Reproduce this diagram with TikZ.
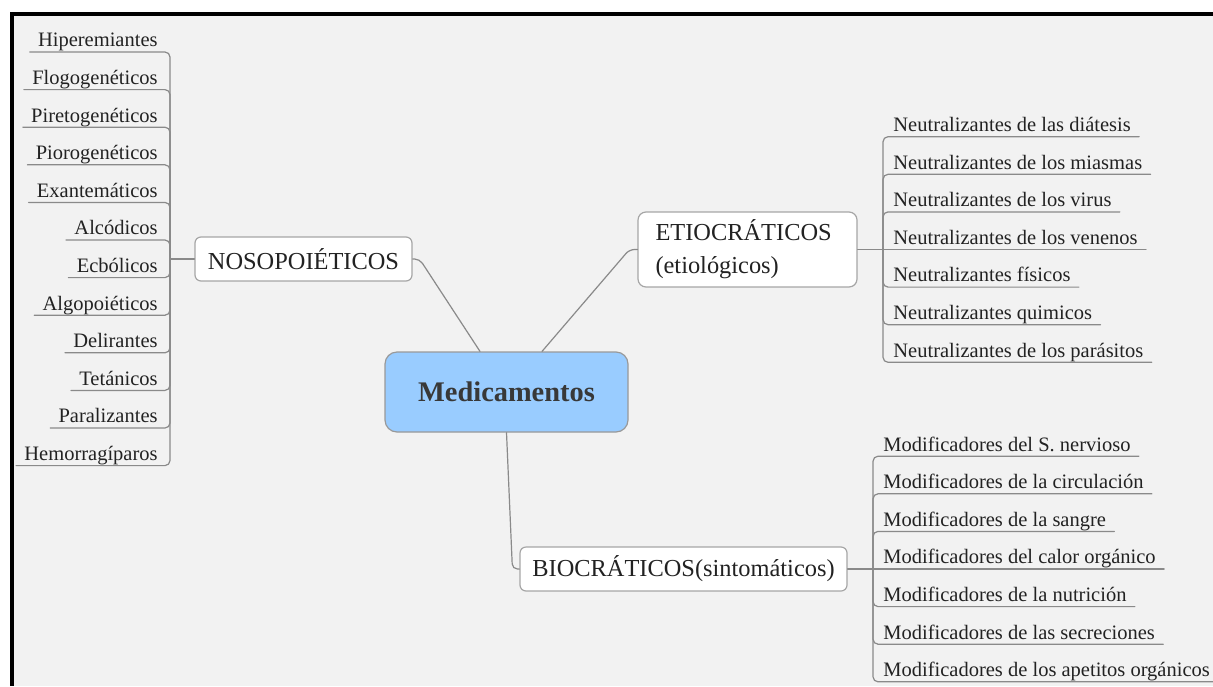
\documentclass[tikz,border=0pt]{standalone}
\usepackage{fontspec}
\setmainfont{Liberation Serif}
\usetikzlibrary{calc}
\definecolor{fondo}{HTML}{F2F2F2}
\definecolor{azul}{HTML}{99CCFF}
\definecolor{linea}{HTML}{8A8A8A}
\definecolor{borde}{HTML}{A6A6A6}
\definecolor{texto}{HTML}{222222}
\begin{document}
\begin{tikzpicture}[x=0.5pt, y=-0.5pt, line cap=round, line join=round]
	\tikzset{rama/.style={draw=linea, line width=0.6pt, rounded corners=2.5pt},
		hoja/.style={inner xsep=4pt, inner ysep=0.4pt, text depth=2pt, text=texto, font=\fontsize{10.25}{12}\selectfont},
		tema/.style={draw=borde, fill=white, rounded corners=3pt, line width=0.6pt, inner sep=0pt, text=texto, font=\fontsize{12.2}{16.5}\selectfont},
		raiz/.style={draw=gray!80, fill=azul, rounded corners=6pt, line width=0.6pt, inner sep=0pt, text=texto!90, font=\fontsize{14.2}{17}\selectfont\bfseries}}
	\useasboundingbox (0,0) rectangle (1213,686);
	\fill[white] (0,0) rectangle (1213,686);
	\fill[black] (10,12) rectangle (1213,686);
	\fill[fondo] (14,16) rectangle (1213,686);
	% nodos principales
	\node[raiz, minimum width=121.5pt, minimum height=40pt] (med) at (506.5,392) {Medicamentos};
	\node[tema, minimum width=108.5pt, minimum height=22pt] (noso) at (303.5,259) {NOSOPOIÉTICOS};
	\node[tema, rounded corners=4pt, minimum width=109.5pt, minimum height=37.5pt, text width=92pt, align=left] (etio) at (747.5,249.5) {ETIOCRÁTICOS\\(etiológicos)};
	\node[tema, minimum width=163.5pt, minimum height=22pt] (bio) at (683.5,569) {BIOCRÁTICOS(sintomáticos)};
	\draw[rama] ([xshift=-13.25pt]med.north) -- ([xshift=3.5pt]noso.east) -- (noso.east);
	\draw[rama] ([xshift=17.75pt]med.north) -- ([xshift=-4pt]etio.west) -- (etio.west);
	\draw[rama] (med.south) -- ([xshift=-3.5pt]bio.west) -- (bio.west);
	\path (170,259) coordinate (jn)
		(883,249.5) coordinate (je)
		(873,569) coordinate (jb);
	% nosopoieticos
	\foreach\i/\t in {1/Hiperemiantes,2/Flogogenéticos,3/Piretogenéticos,4/Piorogenéticos,5/Exantemáticos,6/Alcódicos,7/Ecbólicos,8/Algopoiéticos,9/Delirantes,10/Tetánicos,11/Paralizantes,12/Hemorragíparos} \node[hoja, anchor=south east] (n\i) at (166,{52+(\i-1)*37.6}) {\t};
	\draw[rama] (noso.west) -- (jn);
	\foreach\i in {1,...,12} \draw[rama] (jn) |- (n\i.south west);
	% etiocraticos
	\foreach\i/\t in {1/Neutralizantes de las diátesis,2/Neutralizantes de los miasmas,3/Neutralizantes de los virus,4/Neutralizantes de los venenos,5/Neutralizantes físicos,6/Neutralizantes quimicos,7/Neutralizantes de los parásitos} \node[hoja, anchor=south west] (e\i) at ($(je)+(2,{(\i-4)*37.6})$) {\t};
	\draw[rama] (etio.east) -- (e4.south east);
	\foreach\i in {1,2,3,5,6,7} \draw[rama] (je) |- (e\i.south east);
	% biocraticos
	\foreach\i/\t in {1/Modificadores del S. nervioso,2/Modificadores de la circulación,3/Modificadores de la sangre,4/Modificadores del calor orgánico,5/Modificadores de la nutrición,6/Modificadores de las secreciones,7/Modificadores de los apetitos orgánicos} \node[hoja, anchor=south west] (b\i) at ($(jb)+(2,{(\i-4)*37.6})$) {\t};
	\draw[rama] (bio.east) -- (b4.south east);
	\foreach\i in {1,2,3,5,6,7} \draw[rama] (jb) |- (b\i.south east);
\end{tikzpicture}
\end{document}
